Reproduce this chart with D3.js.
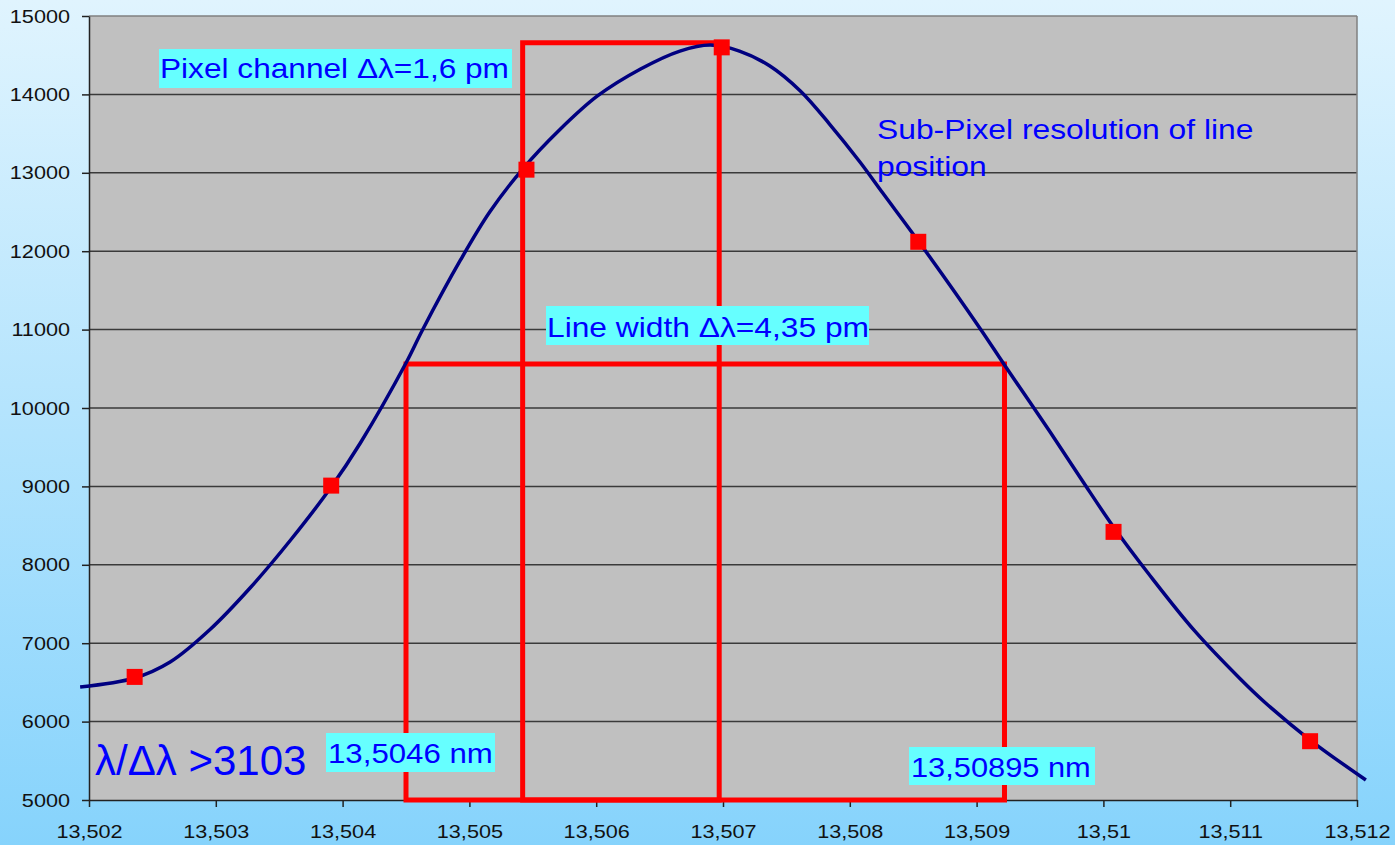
<!DOCTYPE html>
<html>
<head>
<meta charset="utf-8">
<script src="https://cdn.jsdelivr.net/npm/d3@7"></script>
<style>
  body { margin: 0; padding: 0; overflow: hidden; }
  svg { display: block; font-family: "Liberation Sans", Arial, sans-serif; }
</style>
</head>
<body>
<svg id="chart" width="1395" height="845"></svg>
<script>
// fitted line profile (curve)
var curveX = [13.50193, 13.50236, 13.50264, 13.50295, 13.50327, 13.50359, 13.50391, 13.50414,
  13.50450, 13.50463, 13.50493, 13.50516, 13.50542, 13.50571, 13.50601, 13.50635, 13.50666,
  13.50690, 13.50713, 13.50737, 13.50761, 13.50784, 13.50808, 13.50826, 13.50858, 13.50903,
  13.50922, 13.50958, 13.50983, 13.51008, 13.51037, 13.51072, 13.51108, 13.51127, 13.51163, 13.51207]
var curveY = [6441, 6556, 6760, 7168, 7704, 8316, 8992, 9554,
  10574, 10995, 11888, 12500, 13048, 13546, 13980, 14324, 14553,
  14630, 14553, 14362, 14043, 13622, 13138, 12742, 12041, 11008,
  10548, 9694, 9082, 8482, 7857, 7156, 6543, 6250, 5765, 5255]

// pixel channel samples
var pixX = [13.50236, 13.50391, 13.50545, 13.50699, 13.50854, 13.51008, 13.51163]
var pixY = [6570, 9010, 13040, 14600, 12120, 8420, 5750]

// boxes: [x0, x1, top]
var boxX0 = [13.50542, 13.5045]
var boxX1 = [13.50697, 13.50922]
var boxTop = [14660, 10560]

var yTicks = [5000, 6000, 7000, 8000, 9000, 10000, 11000, 12000, 13000, 14000, 15000]
var xTicks = [13.502, 13.503, 13.504, 13.505, 13.506, 13.507, 13.508, 13.509, 13.51, 13.511, 13.512]
var xTickLabels = ["13,502", "13,503", "13,504", "13,505", "13,506", "13,507", "13,508", "13,509", "13,51", "13,511", "13,512"]

var svg = d3.select("#chart")
var W = 1395, H = 845
var m = {left: 89, top: 16, right: 38, bottom: 45}
var pw = W - m.left - m.right, ph = H - m.top - m.bottom
var SX = 1.14  // text in the original is a bit wider than tall

var defs = svg.append("defs")
var grad = defs.append("linearGradient").attr("id", "bg").attr("x1", 0).attr("y1", 0).attr("x2", 0).attr("y2", 1)
grad.append("stop").attr("offset", "0%").attr("stop-color", "#e0f4fe")
grad.append("stop").attr("offset", "100%").attr("stop-color", "#86d3fc")

svg.append("rect").attr("width", W).attr("height", H).attr("fill", "url(#bg)")

var x = d3.scaleLinear().domain([13.502, 13.512]).range([0, pw])
var y = d3.scaleLinear().domain([5000, 15000]).range([ph, 0])

var g = svg.append("g").attr("transform", `translate(${m.left},${m.top})`)

g.append("rect").attr("width", pw).attr("height", ph).attr("fill", "#c0c0c0")

// grid
g.selectAll("line.grid")
  .data(yTicks.slice(1, -1))
  .enter()
  .append("line")
    .attr("class", "grid")
    .attr("x1", 0).attr("x2", pw)
    .attr("y1", d => y(d)).attr("y2", d => y(d))
    .attr("stroke", "#3a3a3a").attr("stroke-width", 1.5)

// frame top & right
g.append("line").attr("x1", 0).attr("x2", pw).attr("y1", 0).attr("y2", 0).attr("stroke", "#808080").attr("stroke-width", 1.5)
g.append("line").attr("x1", pw).attr("x2", pw).attr("y1", 0).attr("y2", ph).attr("stroke", "#808080").attr("stroke-width", 1.5)

// axes
var yAxis = g.append("g")
  .call(d3.axisLeft(y).tickValues(yTicks).tickSize(7).tickSizeOuter(0).tickFormat(d => d))
var xAxis = g.append("g").attr("transform", `translate(0,${ph})`)
  .call(d3.axisBottom(x).tickValues(xTicks).tickSize(7).tickSizeOuter(0).tickFormat((d, i) => xTickLabels[i]))

yAxis.selectAll("path,line").attr("stroke", "#222").attr("stroke-width", 1.5)
xAxis.selectAll("path,line").attr("stroke", "#222").attr("stroke-width", 1.5)
yAxis.selectAll("text").attr("font-size", 19).attr("fill", "#111").attr("x", -19 / SX)
  .attr("transform", `scale(${SX},1)`).attr("font-family", "Liberation Sans, Arial, sans-serif")
xAxis.selectAll("text").attr("font-size", 19).attr("fill", "#111").attr("y", 24.5)
  .attr("transform", `scale(${SX},1)`).attr("font-family", "Liberation Sans, Arial, sans-serif")

// red boxes
boxX0.forEach(function(x0, i){
  g.append("path")
    .attr("d", `M${x(x0)},${y(5000)} L${x(x0)},${y(boxTop[i])} L${x(boxX1[i])},${y(boxTop[i])} L${x(boxX1[i])},${y(5000)} Z`)
    .attr("fill", "none")
    .attr("stroke", "#ff0000")
    .attr("stroke-width", 5)
})

// curve
var line = d3.line()
  .x(d => x(d[0]))
  .y(d => y(d[1]))
  .curve(d3.curveCatmullRom.alpha(0.5))

g.append("path")
  .datum(curveX.map((d, i) => [d, curveY[i]]))
  .attr("d", line)
  .attr("fill", "none")
  .attr("stroke", "#000080")
  .attr("stroke-width", 3.5)

// markers
g.selectAll("rect.pt")
  .data(pixX.map((d, i) => [d, pixY[i]]))
  .enter()
  .append("rect")
    .attr("class", "pt")
    .attr("x", d => x(d[0]) - 8)
    .attr("y", d => y(d[1]) - 8)
    .attr("width", 16).attr("height", 16)
    .attr("fill", "#ff0000")

// labels
function label(txt, box, tx, ty, size, sx){
  if (box) {
    svg.append("rect").attr("x", box[0]).attr("y", box[1]).attr("width", box[2]).attr("height", box[3]).attr("fill", "#66ffff")
  }
  svg.append("text")
    .attr("transform", `translate(${tx},${ty}) scale(${sx},1)`)
    .attr("font-size", size).attr("fill", "#0000ff")
    .text(txt)
}

label("Pixel channel \u0394\u03bb=1,6 pm", [159, 49, 353, 39], 160, 78, 28, 1.13)
label("Line width \u0394\u03bb=4,35 pm", [546, 306, 323, 39], 547, 337, 28, 1.134)
label("Sub-Pixel resolution of line", null, 877, 139, 28, 1.136)
label("position", null, 877, 176, 28, 1.136)
label("\u03bb/\u0394\u03bb >3103", null, 95, 775, 42, 1.0)
label("13,5046 nm", [326, 733, 169, 39], 328, 763, 28, 1.115)
label("13,50895 nm", [909, 747, 186, 38], 911, 777, 28, 1.10)
</script>
</body>
</html>
